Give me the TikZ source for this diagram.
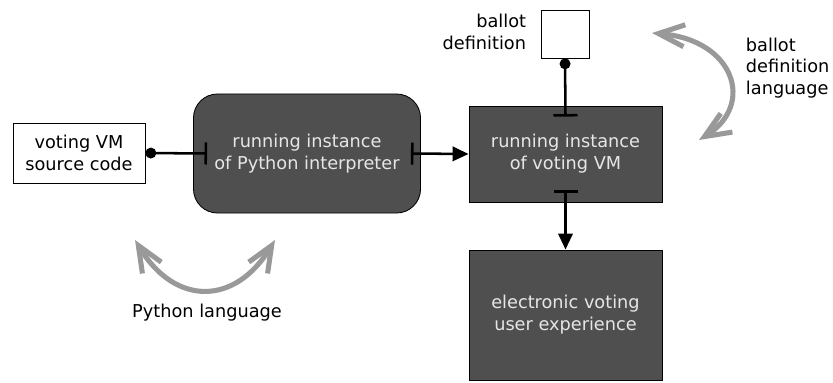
\documentclass[tikz,border=0pt]{standalone}
\usepackage{fontspec}
\setmainfont{DejaVu Sans}
\usepackage{tikz}
\usetikzlibrary{arrows.meta,positioning}
\definecolor{BoxDark}{HTML}{4F4F4F}
\definecolor{BoxText}{HTML}{E6E6E6}
\definecolor{LangGray}{HTML}{999999}
\tikzset{
  figure/.style={font=\fontsize{12.6}{15.5}\selectfont,x=0.025cm,y=-0.025cm},
  darkbox/.style={draw=black,line width=0.6pt,fill=BoxDark,text=BoxText,align=center},
  plainbox/.style={draw=black,line width=0.6pt,fill=white,align=center},
  link/.style={line width=1.8pt,draw=black},
  langarrow/.style={line width=3.6pt,draw=LangGray,
    {Straight Barb[length=6.5mm,width=5.5mm]}-{Straight Barb[length=6.5mm,width=5.5mm]}},
}

\begin{document}
\begin{tikzpicture}[figure]
  \useasboundingbox (0,0) rectangle (833,382);

  % boxes
  \node[plainbox,minimum width=3.3cm,minimum height=1.5cm] (src) at (79,153)
    {voting VM\\source code};
  \node[darkbox,rounded corners=0.6cm,minimum width=5.675cm,minimum height=2.975cm] (py) at (307,153.5)
    {running instance\\of Python interpreter};
  \node[darkbox,minimum width=4.825cm,minimum height=2.4cm] (vm) at (565.5,154)
    {running instance\\of voting VM};
  \node[plainbox,minimum width=1.2cm,minimum height=1.2cm] (ballot) at (565,34) {};
  \node[darkbox,minimum width=4.825cm,minimum height=3.25cm] (ux) at (565.5,315)
    {electronic voting\\user experience};

  % labels
  \node[align=right,anchor=east] (ballotlbl) at (531,32) {ballot\\definition};
  \node[align=left,anchor=west] (ballotlang) at (741,68) {ballot\\definition\\language};
  \node (pylang) at (207,313) {Python language};

  % connectors
  \draw[link,{Circle[length=2.7mm]}-{Bar[width=5.5mm]}] (src.east) -- ([xshift=14*0.025cm]py.west);
  \draw[link,{Bar[width=5.5mm]}-{Triangle[length=4mm,width=3.6mm]}] ([xshift=-10*0.025cm]py.east) -- (vm.west);
  \draw[link,{Circle[length=2.7mm]}-{Bar[width=6mm]}] (ballot.south) -- ([yshift=-11*0.025cm]vm.north);
  \draw[link,{Bar[width=6mm]}-{Triangle[length=4mm,width=3.6mm]}] ([yshift=12*0.025cm]vm.south) -- (ux.north);

  % language arrows
  \coordinate (pyl) at (135,240);
  \coordinate (pyr) at (275,240);
  \draw[langarrow] (pyl) .. controls (175,306) and (235,306) .. (pyr);
  \coordinate (bta) at (652,33);
  \coordinate (btb) at (699,140);
  \draw[langarrow] (bta) .. controls (735,40) and (755,105) .. (btb);
\end{tikzpicture}
\end{document}
